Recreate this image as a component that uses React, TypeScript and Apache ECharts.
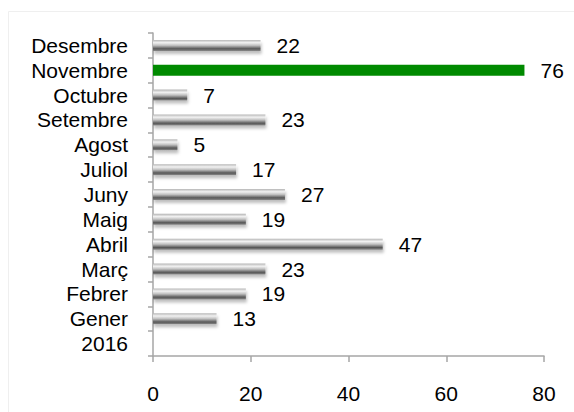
import React, { useEffect, useRef } from "react";
import * as echarts from "echarts";

const categories = ["2016", "Gener", "Febrer", "Març", "Abril", "Maig", "Juny", "Juliol", "Agost", "Setembre", "Octubre", "Novembre", "Desembre"];
const values: (number | null)[] = [null, 13, 19, 23, 47, 19, 27, 17, 5, 23, 7, 76, 22];
const highlightCategory = "Novembre";
const xTicks = { min: 0, max: 80, interval: 20 };

const FONT = "'Liberation Sans', Arial, sans-serif";

export default function App() {
  const ref = useRef<HTMLDivElement>(null);
  useEffect(() => {
    if (!ref.current) return;
    const chart = echarts.init(ref.current, null, { renderer: "svg" });
    const grayGrad = new echarts.graphic.LinearGradient(0, 0, 0, 1, [
      { offset: 0, color: "#b5b5b5" },
      { offset: 0.25, color: "#f2f2f2" },
      { offset: 0.5, color: "#c0c0c0" },
      { offset: 0.8, color: "#585858" },
      { offset: 1, color: "#888888" },
    ]);
    const data = values.map((v, i) => {
      if (v === null) return null;
      if (categories[i] === highlightCategory) {
        return { value: v, itemStyle: { color: "#008a00", shadowBlur: 0, shadowOffsetY: 0, shadowOffsetX: 0, shadowColor: "transparent" } };
      }
      return { value: v };
    });
    chart.setOption({
      animation: false,
      graphic: [
        {
          type: "rect",
          shape: { x: 8.5, y: 11.5, width: 580, height: 420 },
          style: { fill: "none", stroke: "#efefef", lineWidth: 1 },
          silent: true,
        },
      ],
      grid: { left: 153, right: 30, top: 33, bottom: 56, containLabel: false },
      xAxis: {
        type: "value",
        min: xTicks.min,
        max: xTicks.max,
        interval: xTicks.interval,
        splitLine: { show: false },
        axisLine: { show: true, lineStyle: { color: "#a6a6a6", width: 1.5 } },
        axisTick: { show: true, length: 6, lineStyle: { color: "#a6a6a6", width: 1.5 } },
        axisLabel: { color: "#000", fontSize: 21, fontFamily: FONT, margin: 27 },
      },
      yAxis: {
        type: "category",
        data: categories,
        axisLine: { show: true, lineStyle: { color: "#a6a6a6", width: 1.5 } },
        axisTick: { show: true, length: 5, interval: 0, alignWithLabel: false, lineStyle: { color: "#a6a6a6", width: 1.5 } },
        axisLabel: { color: "#000", fontSize: 21, fontFamily: FONT, margin: 25, align: "right", interval: 0, hideOverlap: false },
      },
      series: [
        {
          type: "bar",
          data,
          barWidth: 11,
          itemStyle: {
            color: grayGrad,
            shadowBlur: 3,
            shadowOffsetY: 3,
            shadowOffsetX: 1,
            shadowColor: "rgba(0,0,0,0.25)",
          },
          label: {
            show: true,
            position: "right",
            distance: 16,
            color: "#000",
            fontSize: 21,
            fontFamily: FONT,
          },
        },
      ],
    });
    return () => chart.dispose();
  }, []);
  return <div ref={ref} style={{ position: "absolute", left: 0, top: 0, width: 574, height: 412, background: "#fff" }} />;
}
